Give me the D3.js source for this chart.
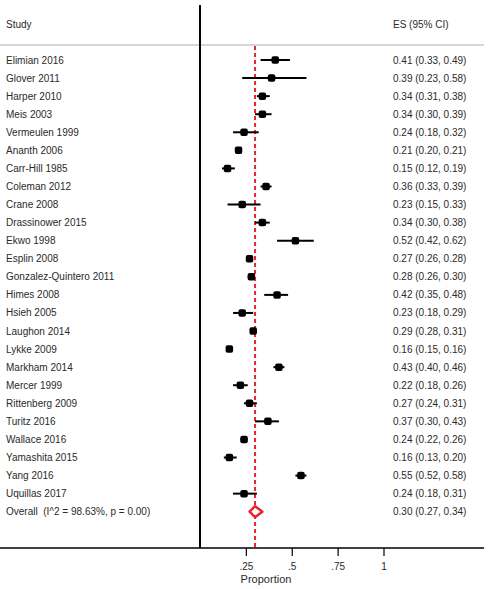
<!DOCTYPE html>
<html>
<head>
<meta charset="utf-8">
<script src="https://cdn.jsdelivr.net/npm/d3@7"></script>
<style>
  body { margin: 0; background: #fff; }
  text { font-family: "Liberation Sans", Arial, sans-serif; fill: #2a2a2a; white-space: pre; }
</style>
</head>
<body>
<div id="chart"></div>
<script>
// study rows, top to bottom
const studies = ['Elimian 2016', 'Glover 2011', 'Harper 2010', 'Meis 2003', 'Vermeulen 1999',
    'Ananth 2006', 'Carr-Hill 1985', 'Coleman 2012', 'Crane 2008', 'Drassinower 2015',
    'Ekwo 1998', 'Esplin 2008', 'Gonzalez-Quintero 2011', 'Himes 2008', 'Hsieh 2005',
    'Laughon 2014', 'Lykke 2009', 'Markham 2014', 'Mercer 1999', 'Rittenberg 2009',
    'Turitz 2016', 'Wallace 2016', 'Yamashita 2015', 'Yang 2016', 'Uquillas 2017'];
const es    = [0.41, 0.39, 0.34, 0.34, 0.24, 0.21, 0.15, 0.36, 0.23, 0.34, 0.52, 0.27, 0.28,
    0.42, 0.23, 0.29, 0.16, 0.43, 0.22, 0.27, 0.37, 0.24, 0.16, 0.55, 0.24];
const lower = [0.33, 0.23, 0.31, 0.30, 0.18, 0.20, 0.12, 0.33, 0.15, 0.30, 0.42, 0.26, 0.26,
    0.35, 0.18, 0.28, 0.15, 0.40, 0.18, 0.24, 0.30, 0.22, 0.13, 0.52, 0.18];
const upper = [0.49, 0.58, 0.38, 0.39, 0.32, 0.21, 0.19, 0.39, 0.33, 0.38, 0.62, 0.28, 0.30,
    0.48, 0.29, 0.31, 0.16, 0.46, 0.26, 0.31, 0.43, 0.26, 0.20, 0.58, 0.31];

const overallLabel = 'Overall  (I^2 = 98.63%, p = 0.00)';
const overall = { es: 0.30, lo: 0.27, hi: 0.34 };

const tickValues = [0.25, 0.5, 0.75, 1];
const tickLabels = ['.25', '.5', '.75', '1'];

const width = 489, height = 589;
const f2 = d3.format('.2f');
const ciText = (e, l, h) => f2(e) + ' (' + f2(l) + ', ' + f2(h) + ')';

const svg = d3.select('#chart').append('svg')
    .attr('width', width)
    .attr('height', height);

const x = d3.scaleLinear().domain([0, 1]).range([200, 383.5]);
const y = d3.scalePoint().domain(studies.concat([overallLabel])).range([60, 511.7]);

const plotTop = 46, plotBottom = 548;

// header
svg.append('text').attr('x', 6).attr('y', 24).attr('dy', '0.35em')
    .style('font-size', '10px').text('Study');
svg.append('text').attr('x', 393).attr('y', 24).attr('dy', '0.35em')
    .style('font-size', '10px').text('ES (95% CI)');
svg.append('line')
    .attr('x1', 0).attr('x2', 484).attr('y1', 45).attr('y2', 45)
    .attr('stroke', '#c8c8c8').attr('stroke-width', 1.5);

// overall reference line
svg.append('line')
    .attr('x1', x(overall.es)).attr('x2', x(overall.es))
    .attr('y1', plotTop).attr('y2', plotBottom)
    .attr('stroke', '#e8242c').attr('stroke-width', 2)
    .attr('stroke-dasharray', '4,3');

// rows
const rows = studies.map((s, i) => ({ s, e: es[i], l: lower[i], h: upper[i] }));

svg.selectAll('line.ci')
    .data(rows)
    .enter()
    .append('line')
    .attr('class', 'ci')
    .attr('x1', d => x(d.l)).attr('x2', d => x(d.h))
    .attr('y1', d => y(d.s)).attr('y2', d => y(d.s))
    .attr('stroke', '#000').attr('stroke-width', 2);

svg.selectAll('rect.pt')
    .data(rows)
    .enter()
    .append('rect')
    .attr('class', 'pt')
    .attr('x', d => x(d.e) - 3.75).attr('y', d => y(d.s) - 3.75)
    .attr('width', 7.5).attr('height', 7.5)
    .attr('rx', 2)
    .attr('fill', '#000');

svg.selectAll('text.study')
    .data(rows)
    .enter()
    .append('text')
    .attr('class', 'study')
    .attr('x', 6).attr('y', d => y(d.s)).attr('dy', '0.35em')
    .style('font-size', '10px')
    .text(d => d.s);

svg.selectAll('text.es')
    .data(rows)
    .enter()
    .append('text')
    .attr('class', 'es')
    .attr('x', 393).attr('y', d => y(d.s)).attr('dy', '0.35em')
    .style('font-size', '10px')
    .text(d => ciText(d.e, d.l, d.h));

// overall diamond
const oy = y(overallLabel);
svg.append('path')
    .attr('d', 'M' + x(overall.lo) + ',' + oy +
        'L' + x(overall.es) + ',' + (oy - 5.5) +
        'L' + x(overall.hi) + ',' + oy +
        'L' + x(overall.es) + ',' + (oy + 5.5) + 'Z')
    .attr('fill', '#fff').attr('stroke', '#e8242c').attr('stroke-width', 2.5)
    .attr('stroke-linejoin', 'round');
svg.append('text').attr('x', 6).attr('y', oy).attr('dy', '0.35em')
    .style('font-size', '10px').text(overallLabel);
svg.append('text').attr('x', 393).attr('y', oy).attr('dy', '0.35em')
    .style('font-size', '10px').text(ciText(overall.es, overall.lo, overall.hi));

// frame lines
svg.append('line')
    .attr('x1', 200).attr('x2', 200).attr('y1', 5).attr('y2', plotBottom)
    .attr('stroke', '#000').attr('stroke-width', 2);
svg.append('line')
    .attr('x1', 0).attr('x2', 484).attr('y1', plotBottom).attr('y2', plotBottom)
    .attr('stroke', '#000').attr('stroke-width', 1.5);

// x axis
const axis = svg.append('g')
    .attr('transform', 'translate(0,' + plotBottom + ')')
    .call(d3.axisBottom(x)
        .tickValues(tickValues)
        .tickSize(8)
        .tickFormat((d, i) => tickLabels[i]));
axis.select('.domain').remove();
axis.selectAll('.tick line').attr('stroke', '#000').attr('stroke-width', 1.2);
axis.selectAll('.tick text')
    .attr('y', 15)
    .style('font-size', '10px')
    .style('font-family', '"Liberation Sans", Arial, sans-serif')
    .attr('fill', '#2a2a2a');

svg.append('text')
    .attr('x', 266).attr('y', 579).attr('dy', '0.35em')
    .attr('text-anchor', 'middle')
    .style('font-size', '11px')
    .text('Proportion');
</script>
</body>
</html>
